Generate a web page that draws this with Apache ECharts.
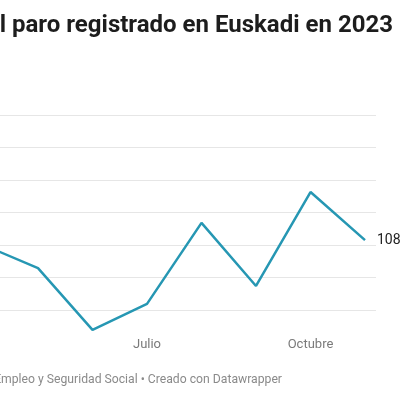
<!DOCTYPE html>
<html>
<head>
	<meta charset="utf-8" />
	<title>Paro registrado Euskadi 2023</title>
	<script src="https://cdn.jsdelivr.net/npm/echarts@6/dist/echarts.min.js"></script>
	<style>
		html, body { margin: 0; padding: 0; background: #fff; }
		#chart { width: 400px; height: 400px; }
	</style>
</head>
<body>
<div id="chart"></div>
<script type="text/javascript">
	// datos (personas en paro)
	var meses = ['Enero', 'Febrero', 'Marzo', 'Abril', 'Mayo', 'Junio', 'Julio', 'Agosto', 'Septiembre', 'Octubre', 'Noviembre'];
	var mesNum = [1, 2, 3, 4, 5, 6, 7, 8, 9, 10, 11];
	var paro = [111800, 111300, 109700, 108000, 107290, 105390, 106190, 108680, 106740, 109630, 108150];
	var mesesEtiqueta = [1, 4, 7, 10];

	function miles(v) {
		return String(Math.round(v)).replace(/\B(?=(\d{3})+(?!\d))/g, '.');
	}

	var puntos = [];
	for (var i = 0; i < mesNum.length; i++) {
		puntos.push([mesNum[i], paro[i]]);
	}

	var grisRejilla = ['rgba(0,0,0,0)'];
	for (var j = 0; j < 7; j++) grisRejilla.push('#e6e6e6');

	// el gráfico original está recortado por la izquierda: solo se ve desde abril
	var pxMes = 54.5;
	var xMin = 7 - 147 / pxMes;
	var xMax = 11 + 11 / pxMes;

	var myChart = echarts.init(document.getElementById('chart'));
	var option = {
		animation: false,
		title: {
			text: 'Evolución del paro registrado en Euskadi en 2023',
			right: 2,
			top: 9,
			textStyle: {
				fontFamily: 'Roboto',
				fontSize: 24,
				fontWeight: 'bold',
				color: '#1d1d1d'
			}
		},
		graphic: [{
			type: 'text',
			right: 118,
			top: 374,
			style: {
				text: 'Fuente: Ministerio de Empleo y Seguridad Social • Creado con Datawrapper',
				fontFamily: 'Roboto',
				fontSize: 12.2,
				fill: '#8a8a8a'
			}
		}],
		grid: {
			left: 0,
			right: 24,
			top: 115,
			bottom: 57.5
		},
		xAxis: {
			type: 'value',
			min: xMin,
			max: xMax,
			axisLine: { show: false },
			axisTick: { show: false },
			splitLine: { show: false },
			axisLabel: {
				customValues: mesesEtiqueta,
				margin: -4,
				fontFamily: 'Roboto',
				fontSize: 13,
				color: '#7a7a7a',
				formatter: function (v) {
					return meses[Math.round(v) - 1];
				}
			}
		},
		yAxis: {
			type: 'value',
			min: 105000,
			max: 112000,
			interval: 1000,
			axisLine: { show: false },
			axisTick: { show: false },
			axisLabel: { show: false },
			splitLine: {
				lineStyle: { color: grisRejilla, width: 1 }
			}
		},
		series: [{
			name: 'Paro registrado',
			type: 'line',
			data: puntos,
			symbol: 'none',
			clip: true,
			lineStyle: { color: '#2697b3', width: 2.5 },
			endLabel: {
				show: true,
				distance: 12,
				fontFamily: 'Roboto',
				fontSize: 14,
				color: '#222',
				formatter: function (p) { return miles(p.value[1]); }
			}
		}]
	};
	myChart.setOption(option);
</script>
</body>
</html>
